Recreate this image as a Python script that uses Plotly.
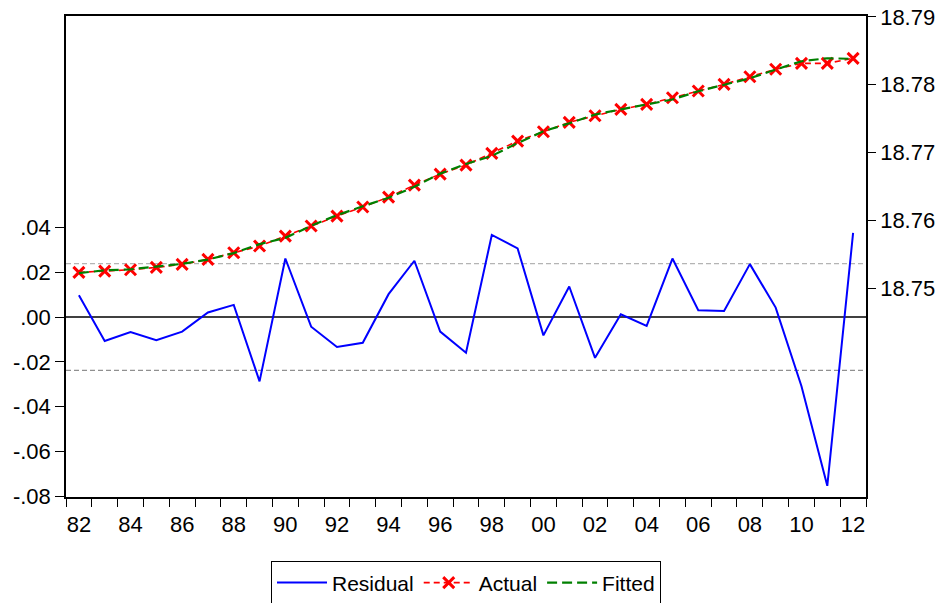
import plotly.graph_objects as go

years = list(range(1982, 2013))

residual = [0.0097, -0.0107, -0.0067, -0.0103, -0.0065, 0.0020, 0.0054, -0.0287,
            0.0261, -0.0043, -0.0134, -0.0115, 0.0102, 0.0251, -0.0065, -0.0159,
            0.0366, 0.0306, -0.0082, 0.0136, -0.0182, 0.0012, -0.0040, 0.0261,
            0.0030, 0.0027, 0.0236, 0.0042, -0.0309, -0.0753, 0.0375]

actual = [18.75232, 18.75251, 18.75270, 18.75305, 18.75350, 18.75423, 18.75521, 18.75620,
          18.75767, 18.75915, 18.76062, 18.76195, 18.76342, 18.76519, 18.76681, 18.76814,
          18.76987, 18.77168, 18.77305, 18.77444, 18.77541, 18.77636, 18.77709, 18.77807,
          18.77906, 18.78004, 18.78117, 18.78226, 18.78314, 18.78314, 18.78388]

fitted = [18.75222, 18.75262, 18.75277, 18.75315, 18.75357, 18.75421, 18.75516, 18.75649,
          18.75741, 18.75919, 18.76075, 18.76207, 18.76332, 18.76494, 18.76688, 18.76830,
          18.76950, 18.77137, 18.77313, 18.77430, 18.77559, 18.77635, 18.77713, 18.77781,
          18.77903, 18.78001, 18.78093, 18.78222, 18.78345, 18.78389, 18.78380]

se_band = 0.0238

x_label_vals = list(range(1982, 2013, 2))
x_label_text = [str(y)[2:] for y in x_label_vals]
x_boundaries = [y + 0.5 for y in range(1981, 2013)]

left_ticks = [-0.08, -0.06, -0.04, -0.02, 0.00, 0.02, 0.04]
left_text = ["-.08", "-.06", "-.04", "-.02", ".00", ".02", ".04"]
right_ticks = [18.75, 18.76, 18.77, 18.78, 18.79]
right_text = ["18.75", "18.76", "18.77", "18.78", "18.79"]

FONT = "Arial, Liberation Sans, sans-serif"
FS = 22

fig = go.Figure()

fig.add_trace(go.Scatter(
    x=years, y=residual, name="Residual", mode="lines",
    line=dict(color="#0000ff", width=2), yaxis="y"))

fig.add_trace(go.Scatter(
    x=years, y=actual, name="Actual", mode="lines+markers",
    line=dict(color="#ff0000", width=1.6, dash="6px,4px"),
    marker=dict(symbol="x-thin", size=11, color="#ff0000",
                line=dict(color="#ff0000", width=3)),
    yaxis="y2"))

fig.add_trace(go.Scatter(
    x=years, y=fitted, name="Fitted", mode="lines",
    line=dict(color="#008000", width=2.2, dash="10px,5px"),
    yaxis="y2"))

shapes = [
    dict(type="line", xref="paper", yref="y", x0=0, x1=1, y0=0, y1=0,
         line=dict(color="black", width=1.5), layer="below"),
    dict(type="line", xref="paper", yref="y", x0=0, x1=1, y0=se_band, y1=se_band,
         line=dict(color="#b4b4b4", width=1.3, dash="5px,3px"), layer="below"),
    dict(type="line", xref="paper", yref="y", x0=0, x1=1, y0=-se_band, y1=-se_band,
         line=dict(color="#909090", width=1.3, dash="5px,3px"), layer="below"),
]

fig.update_layout(
    width=947, height=603,
    margin=dict(l=66, r=81, t=16, b=106, pad=0, autoexpand=False),
    paper_bgcolor="white", plot_bgcolor="white",
    font=dict(family=FONT, size=FS, color="black"),
    shapes=shapes,
    showlegend=True,
    legend=dict(orientation="h", x=0.5, xanchor="center", y=-0.134, yanchor="top",
                bordercolor="black", borderwidth=1, bgcolor="white",
                font=dict(family=FONT, size=21, color="black"),
                itemwidth=50, tracegroupgap=0),
    xaxis=dict(range=[1981.5, 2012.5], tickmode="array", tickvals=x_label_vals,
               ticktext=x_label_text, ticks="outside", ticklen=7,
               tickcolor="rgba(0,0,0,0)", showgrid=False, zeroline=False,
               showline=True, linecolor="black", linewidth=1.5, mirror=True,
               automargin=False,
               minor=dict(tickmode="array", tickvals=x_boundaries, ticks="outside",
                          ticklen=8, tickcolor="black", tickwidth=1, showgrid=False)),
    yaxis=dict(range=[-0.0803, 0.1343], tickmode="array", tickvals=left_ticks,
               ticktext=left_text, ticks="outside", ticklen=9, tickcolor="black",
               showgrid=False, zeroline=False, showline=True, linecolor="black",
               linewidth=1.5, automargin=False),
    yaxis2=dict(range=[18.7192, 18.79012], overlaying="y", side="right",
                tickmode="array", tickvals=right_ticks, ticktext=right_text,
                ticks="outside", ticklen=8, tickcolor="black", showgrid=False,
                zeroline=False, showline=True, linecolor="black", linewidth=1.5,
                automargin=False),
)

# remove the page's default body margin so the figure sits at the window's corner
fig.write_html("out.html", config={"displayModeBar": False},
               post_script="document.body.style.margin='0px';")
